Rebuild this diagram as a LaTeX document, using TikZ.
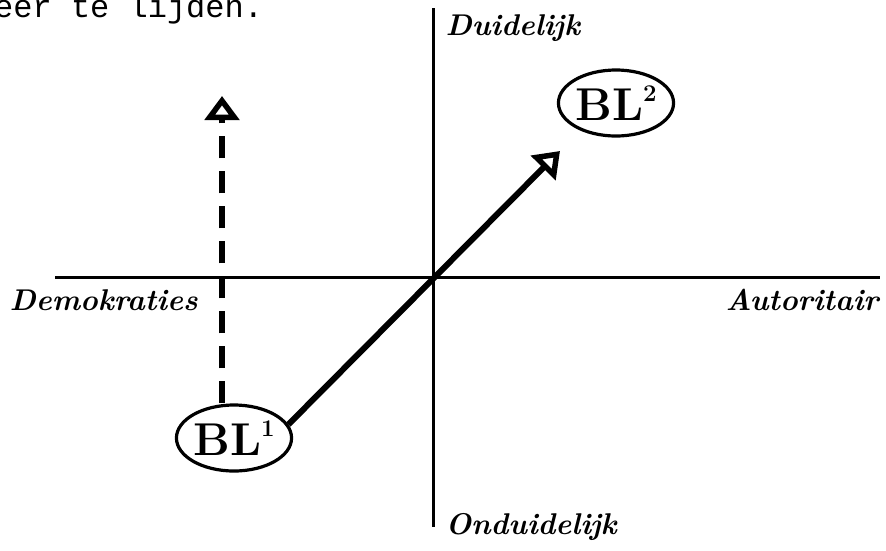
\documentclass[tikz,border=0pt]{standalone}
\usepackage{fontspec}
\newfontfamily\monofont{Liberation Mono}
\usetikzlibrary{arrows.meta,shapes.geometric}
\tikzset{
  axis/.style={line width=3pt},
  lab/.style={font=\fontsize{30}{32}\selectfont\bfseries\itshape},
  blnode/.style={ellipse,draw,line width=3.2pt,minimum width=104pt,minimum height=66pt,inner sep=0pt,font=\fontsize{46}{48}\selectfont\bfseries},
  openhead/.style={-{Triangle[open,length=24pt,width=34pt,line width=5.5pt]}}
}
\newcommand{\supnum}[1]{\raisebox{0.40em}{\fontsize{24}{24}\selectfont #1}}
\begin{document}
\begin{tikzpicture}[x=1pt,y=-1pt]
\useasboundingbox (0,0) rectangle (886,550);
\node[anchor=base west,inner sep=0pt,font=\fontsize{32}{32}\selectfont\monofont] (top) at (-6,17) {eer te lijden.};
\coordinate (vt) at (433,8);
\coordinate (vb) at (433,527);
\coordinate (hl) at (55,277);
\coordinate (hr) at (880,277);
\coordinate (o) at (433,277);
\draw[axis] (vt) -- (vb);
\draw[axis] (hl) -- (hr);
\node[lab,anchor=west] (duid) at (442,28) {Duidelĳk};
\node[lab,anchor=west] (onduid) at (442,527) {Onduidelĳk};
\node[lab,anchor=west] (demo) at (6,300) {Demokraties};
\node[lab,anchor=east] (auto) at (882,300) {Autoritair};
\node[blnode] (bl1) at (234,438) {BL\supnum{1}};
\node[blnode] (bl2) at (616,103) {BL\supnum{2}};
\coordinate (dtop) at (222,96);
\coordinate (stip) at (560,151);
\draw[line width=6pt,openhead] (bl1.14) -- (stip);
\draw[line width=6pt,dash pattern=on 22pt off 13pt,openhead] (bl1.north -| dtop) -- (dtop);
\end{tikzpicture}
\end{document}
